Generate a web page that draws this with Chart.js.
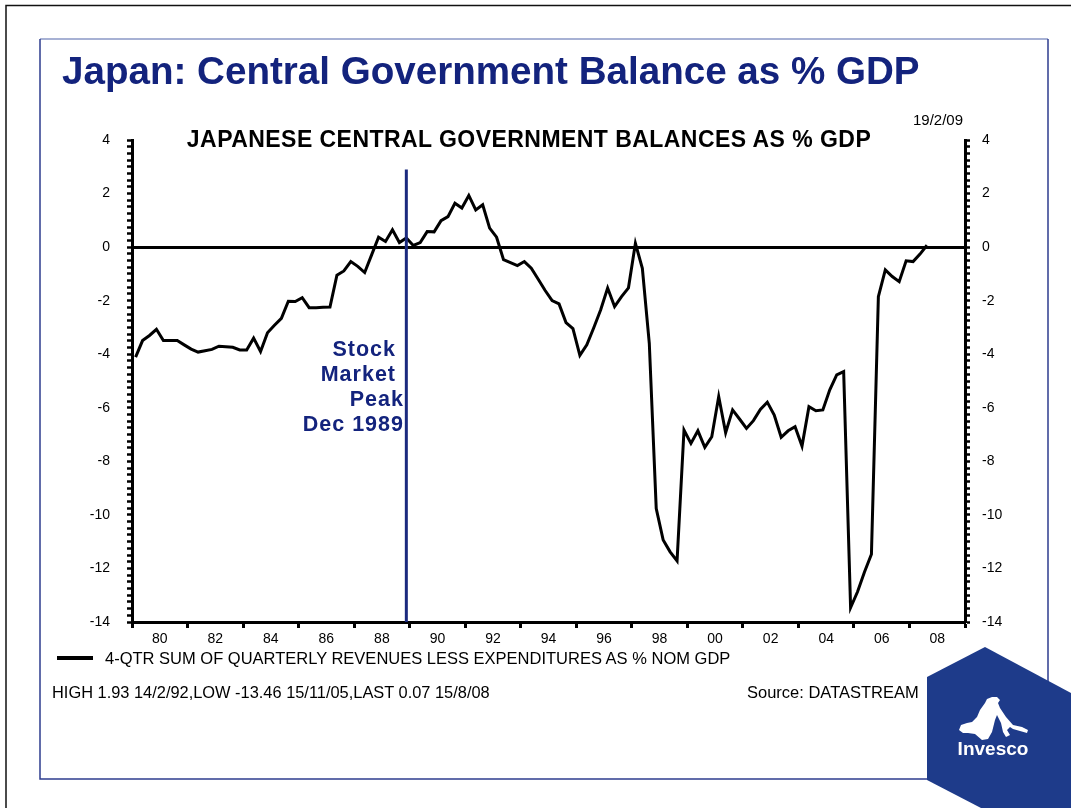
<!DOCTYPE html>
<html>
<head>
<meta charset="utf-8">
<title>Japan: Central Government Balance as % GDP</title>
<script src="https://cdn.jsdelivr.net/npm/chart.js@4.4.1/dist/chart.umd.min.js"></script>
<style>
  html, body { margin: 0; padding: 0; background: #fff; }
  #wrap { position: relative; width: 1071px; height: 808px; overflow: hidden;
          font-family: 'Liberation Sans', Arial, sans-serif; }
  #wrap canvas { position: absolute; left: 0; top: 0; }
  .t { position: absolute; white-space: nowrap; line-height: 1; }
  .navy { color: #13237d; font-weight: bold; }
  .note { font-size: 21.5px; letter-spacing: 1px; }
</style>
</head>
<body>
<div id="wrap">
  <canvas id="balanceChart" width="1071" height="808"></canvas>

  <div class="t navy" style="left:62px; top:52px; font-size:38.6px;">Japan: Central Government Balance as % GDP</div>
  <div class="t" style="left:529px; top:128px; transform:translateX(-50%); font-size:23px; font-weight:bold; letter-spacing:0.45px; color:#000;">JAPANESE CENTRAL GOVERNMENT BALANCES AS % GDP</div>
  <div class="t" style="right:108px; top:112px; font-size:15px; color:#000;">19/2/09</div>

  <div class="t navy note" style="right:675px; top:339px;">Stock</div>
  <div class="t navy note" style="right:675px; top:364px;">Market</div>
  <div class="t navy note" style="right:667px; top:389px;">Peak</div>
  <div class="t navy note" style="right:667px; top:414px;">Dec 1989</div>

  <div style="position:absolute; left:57px; top:656px; width:36px; height:3.5px; background:#000;"></div>
  <div class="t" style="left:105px; top:650px; font-size:16.5px; color:#000;">4-QTR SUM OF QUARTERLY REVENUES LESS EXPENDITURES AS % NOM GDP</div>
  <div class="t" style="left:52px; top:684px; font-size:16.4px; color:#000;">HIGH 1.93 14/2/92,LOW -13.46 15/11/05,LAST 0.07 15/8/08</div>
  <div class="t" style="left:747px; top:684px; font-size:16.5px; color:#000;">Source: DATASTREAM</div>

  <div class="t" style="left:993px; top:739px; transform:translateX(-50%); font-size:19px; font-weight:bold; color:#fff;">Invesco</div>
</div>

<script>
// quarterly points, first one early 1979 on the axis
const firstQuarter = 1979.13;
const balance = [
  -4.11, -3.49, -3.30, -3.07, -3.49, -3.49, -3.49, -3.65, -3.81, -3.92,
  -3.87, -3.82, -3.70, -3.72, -3.74, -3.84, -3.84, -3.40, -3.90, -3.20,
  -2.92, -2.66, -2.02, -2.03, -1.89, -2.26, -2.26, -2.25, -2.24, -1.05,
  -0.89, -0.54, -0.72, -0.95, -0.29, 0.37, 0.21, 0.65, 0.17, 0.34,
  0.06, 0.17, 0.58, 0.57, 0.99, 1.14, 1.64, 1.46, 1.93, 1.39,
  1.58, 0.71, 0.37, -0.47, -0.58, -0.69, -0.54, -0.79, -1.20, -1.62,
  -2.00, -2.12, -2.82, -3.04, -4.04, -3.65, -3.01, -2.34, -1.53, -2.22,
  -1.85, -1.52, 0.14, -0.79, -3.59, -9.76, -10.94, -11.38, -11.72, -6.83,
  -7.33, -6.86, -7.48, -7.08, -5.58, -6.93, -6.08, -6.42, -6.77, -6.48,
  -6.06, -5.79, -6.27, -7.10, -6.86, -6.71, -7.43, -5.96, -6.11, -6.08,
  -5.33, -4.77, -4.65, -13.46, -12.87, -12.13, -11.47, -1.85, -0.85, -1.10,
  -1.29, -0.51, -0.54, -0.26, 0.07
];

const yearRange = [1979, 2009];
const valueRange = [-14, 4];
const stockPeak = 1988.88;     // Dec 1989 marker
const stockPeakTop = 2.9;

const points = balance.map((v, i) => ({ x: firstQuarter + i * 0.25, y: v }));

const tickFont = { family: "'Liberation Sans', Arial, sans-serif", size: 14 };

// mountain of the logo, page pixels
const mountain = [
  [959,730],[961,725],[967,723],[972,722],[977,717],[980,710],[985,703],[987,699],
  [992,697],[997,697],[1000,700],[998,703],[1000,708],[1006,717],[1013,725],[1022,727],
  [1028,730],[1027,733],[1020,731],[1013,729],[1010,727],[1007,730],[1010,735],[1006,737],
  [1003,732],[1001,723],[997,715],[995,720],[992,732],[988,739],[982,740],[975,734],
  [968,733],[963,733]
];

const decor = {
  id: 'decor',
  beforeDraw(chart) {
    const c = chart.ctx;
    c.save();
    c.strokeStyle = '#111';
    c.lineWidth = 1.5;
    c.beginPath();
    c.moveTo(6, 808); c.lineTo(6, 5.5); c.lineTo(1071, 5.5);
    c.stroke();

    c.lineWidth = 1.5;
    c.strokeStyle = '#8a97c6';
    c.beginPath(); c.moveTo(40, 39); c.lineTo(1048, 39); c.stroke();
    c.strokeStyle = '#2e3d8f';
    c.beginPath();
    c.moveTo(40, 39); c.lineTo(40, 779); c.lineTo(1048, 779); c.lineTo(1048, 39);
    c.stroke();
    c.restore();
  },
  afterDatasetsDraw(chart) {
    const { x, y } = chart.scales;
    const c = chart.ctx;
    const px = x.getPixelForValue(stockPeak);
    c.save();
    c.strokeStyle = '#1b2a7e';
    c.lineWidth = 3;
    c.beginPath();
    c.moveTo(px, y.getPixelForValue(stockPeakTop));
    c.lineTo(px, chart.chartArea.bottom);
    c.stroke();
    c.restore();
  },
  afterDraw(chart) {
    const c = chart.ctx;
    c.save();
    c.fillStyle = '#1e3b8a';
    c.beginPath();
    c.moveTo(985, 647); c.lineTo(1071, 693); c.lineTo(1071, 808);
    c.lineTo(981, 808); c.lineTo(927, 780); c.lineTo(927, 677);
    c.closePath();
    c.fill();

    c.fillStyle = '#fff';
    c.beginPath();
    mountain.forEach(([mx, my], i) => i ? c.lineTo(mx, my) : c.moveTo(mx, my));
    c.closePath();
    c.fill();
    c.restore();
  }
};

new Chart(document.getElementById('balanceChart'), {
  type: 'line',
  data: {
    datasets: [{
      data: points,
      borderColor: '#000',
      borderWidth: 3,
      pointRadius: 0,
      tension: 0,
      fill: false
    }]
  },
  options: {
    responsive: false,
    animation: false,
    devicePixelRatio: 1,
    layout: { padding: { top: 140, bottom: 156, left: 0, right: 0 } },
    plugins: { legend: { display: false }, tooltip: { enabled: false } },
    scales: {
      x: {
        type: 'linear',
        position: 'bottom',
        min: yearRange[0],
        max: yearRange[1],
        afterFit: s => { s.height = 30; },
        border: { color: '#000', width: 3 },
        grid: {
          drawOnChartArea: false,
          tickLength: 6,
          tickWidth: 3,
          tickColor: ctx => (ctx.tick && Math.round(ctx.tick.value) % 2 !== 0) ? '#000' : 'rgba(0,0,0,0)'
        },
        ticks: {
          stepSize: 1,
          autoSkip: false,
          maxTicksLimit: 100,
          maxRotation: 0,
          padding: 3,
          color: '#000',
          font: tickFont,
          callback: v => (Math.round(v) % 2 === 0 ? String(Math.round(v)).slice(2) : '')
        }
      },
      y: {
        position: 'left',
        min: valueRange[0],
        max: valueRange[1],
        afterFit: s => { s.width = 132; },
        border: { color: '#000', width: 3 },
        grid: {
          drawOnChartArea: true,
          color: ctx => (ctx.tick && ctx.tick.value === 0) ? '#000' : 'rgba(0,0,0,0)',
          lineWidth: 3,
          tickLength: 5,
          tickWidth: 2.5,
          tickColor: '#000'
        },
        ticks: {
          stepSize: 0.25,
          autoSkip: false,
          maxTicksLimit: 100,
          padding: 17,
          color: '#000',
          font: tickFont,
          callback: v => (v % 2 === 0 ? String(v) : '')
        }
      },
      y2: {
        position: 'right',
        min: valueRange[0],
        max: valueRange[1],
        afterFit: s => { s.width = 106; },
        border: { color: '#000', width: 3 },
        grid: {
          drawOnChartArea: false,
          tickLength: 5,
          tickWidth: 2.5,
          tickColor: '#000'
        },
        ticks: {
          stepSize: 0.25,
          autoSkip: false,
          maxTicksLimit: 100,
          padding: 12,
          color: '#000',
          font: tickFont,
          callback: v => (v % 2 === 0 ? String(v) : '')
        }
      }
    }
  },
  plugins: [decor]
});
</script>
</body>
</html>
